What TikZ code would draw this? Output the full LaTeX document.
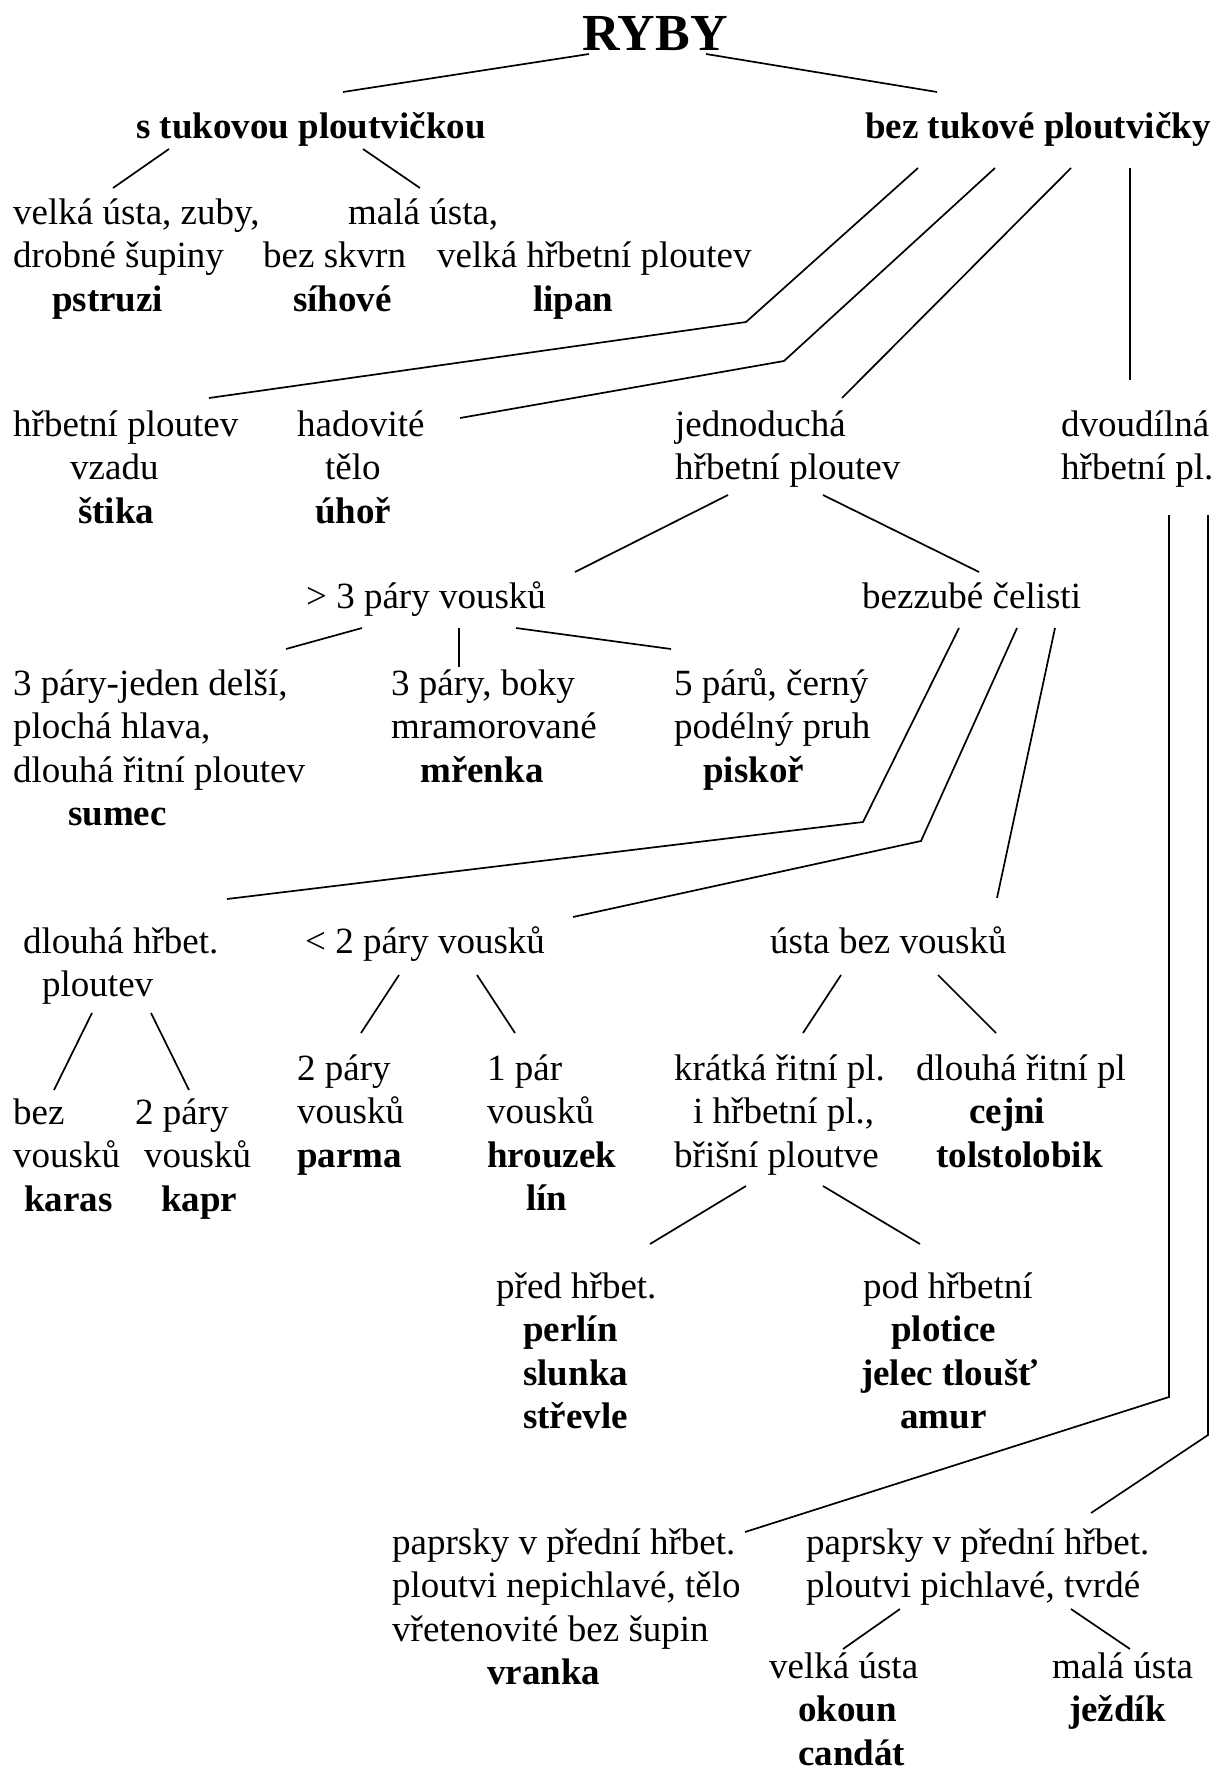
\documentclass[tikz,border=0pt]{standalone}
\usepackage{fontspec}
\setmainfont{Liberation Serif}

\begin{document}
\begin{tikzpicture}[x=1pt, y=-1pt]
    \tikzset{
        txt/.style = {anchor=base west, inner sep=0pt, align=left, font=\fontsize{37}{43.5}\selectfont},
        title/.style = {anchor=base west, inner sep=0pt, font=\fontsize{52}{60}\selectfont\bfseries},
        link/.style = {draw, line width=1.7pt}
    }
    \useasboundingbox (0,0) rectangle (1223,1773);

    % nodes sit on the baseline of their last line
    \node[title] (ryby) at (582,50) {RYBY};
    \node[txt] (stuk) at (136,138) {\textbf{s tukovou ploutvičkou}};
    \node[txt] (beztuk) at (865,138) {\textbf{bez tukové ploutvičky}};

    \node[txt] (pstruzi) at (13,311) {velká ústa, zuby,\\drobné šupiny\\\hspace*{39pt}\textbf{pstruzi}};
    \node[txt] (sihove) at (263,311) {\hspace*{85pt}malá ústa,\\bez skvrn\\\hspace*{30pt}\textbf{síhové}};
    \node[txt] (lipan) at (437,311) {velká hřbetní ploutev\\\hspace*{96pt}\textbf{lipan}};

    \node[txt] (stika) at (13,523) {hřbetní ploutev\\\hspace*{57pt}vzadu\\\hspace*{65pt}\textbf{štika}};
    \node[txt] (uhor) at (297,523) {hadovité\\\hspace*{28pt}tělo\\\hspace*{18pt}\textbf{úhoř}};
    \node[txt] (jednoducha) at (675,479.5) {jednoduchá\\hřbetní ploutev};
    \node[txt] (dvoudilna) at (1061,479.5) {dvoudílná\\hřbetní pl.};

    \node[txt] (vousky3) at (306,608) {> 3 páry vousků};
    \node[txt] (bezzube) at (862,608) {bezzubé čelisti};

    \node[txt] (sumec) at (13,825.5) {3 páry-jeden delší,\\plochá hlava,\\dlouhá řitní ploutev\\\hspace*{55pt}\textbf{sumec}};
    \node[txt] (mrenka) at (391,782) {3 páry, boky\\mramorované\\\hspace*{29pt}\textbf{mřenka}};
    \node[txt] (piskor) at (674,782) {5 párů, černý\\podélný pruh\\\hspace*{29pt}\textbf{piskoř}};

    \node[txt] (dlouhahrbet) at (23,996.5) {dlouhá hřbet.\\\hspace*{19pt}ploutev};
    \node[txt] (vousky2) at (305,953) {< 2 páry vousků};
    \node[txt] (bezvousku) at (770,953) {ústa bez vousků};

    \node[txt] (karas) at (13,1211) {bez\\vousků\\\hspace*{11pt}\textbf{karas}};
    \node[txt] (kapr) at (135,1211) {2 páry\\\hspace*{9pt}vousků\\\hspace*{26pt}\textbf{kapr}};
    \node[txt] (parma) at (297,1167) {2 páry\\vousků\\\textbf{parma}};
    \node[txt] (hrouzek) at (487,1210.5) {1 pár\\vousků\\\textbf{hrouzek}\\\hspace*{39pt}\textbf{lín}};
    \node[txt] (kratka) at (674,1167) {krátká řitní pl.\\\hspace*{19pt}i hřbetní pl.,\\břišní ploutve};
    \node[txt] (cejni) at (916,1167) {dlouhá řitní pl\\\hspace*{53pt}\textbf{cejni}\\\hspace*{20pt}\textbf{tolstolobik}};

    \node[txt] (perlin) at (496,1428.5) {před hřbet.\\\hspace*{27pt}\textbf{perlín}\\\hspace*{27pt}\textbf{slunka}\\\hspace*{27pt}\textbf{střevle}};
    \node[txt] (plotice) at (861,1428.5) {\hspace*{2pt}pod hřbetní\\\hspace*{30pt}\textbf{plotice}\\\textbf{jelec tloušť}\\\hspace*{39pt}\textbf{amur}};

    \node[txt] (vranka) at (392,1684.5) {paprsky v přední hřbet.\\ploutvi nepichlavé, tělo\\vřetenovité bez šupin\\\hspace*{95pt}\textbf{vranka}};
    \node[txt] (pichlave) at (806,1597.5) {paprsky v přední hřbet.\\ploutvi pichlavé, tvrdé};
    \node[txt] (okoun) at (769,1765) {velká ústa\\\hspace*{29pt}\textbf{okoun}\\\hspace*{29pt}\textbf{candát}};
    \node[txt] (jezdik) at (1052,1721.5) {malá ústa\\\hspace*{17pt}\textbf{ježdík}};

    % line ends
    \coordinate (ryby-l) at (589,54);  \coordinate (stuk-n) at (343,92);
    \coordinate (ryby-r) at (706,54);  \coordinate (beztuk-n) at (937,92);
    \coordinate (stuk-l) at (169,149); \coordinate (pstruzi-n) at (113,188);
    \coordinate (stuk-r) at (363,149); \coordinate (sihove-n) at (420,188);
    \coordinate (beztuk-1) at (918,168); \coordinate (beztuk-1b) at (746,322); \coordinate (stika-n) at (209,398);
    \coordinate (beztuk-2) at (995,168); \coordinate (beztuk-2b) at (784,361); \coordinate (uhor-n) at (460,418);
    \coordinate (beztuk-3) at (1071,168); \coordinate (jednoducha-n) at (842,398);
    \coordinate (beztuk-4) at (1130,168); \coordinate (dvoudilna-n) at (1130,380);
    \coordinate (jednoducha-l) at (728,495); \coordinate (vousky3-n) at (575,572);
    \coordinate (jednoducha-r) at (823,495); \coordinate (bezzube-n) at (979,572);
    \coordinate (vousky3-l) at (362,628); \coordinate (sumec-n) at (286,649);
    \coordinate (vousky3-m) at (459,628); \coordinate (mrenka-n) at (459,667);
    \coordinate (vousky3-r) at (516,628); \coordinate (piskor-n) at (671,649);
    \coordinate (bezzube-1) at (959,628); \coordinate (bezzube-1b) at (863,822); \coordinate (dlouhahrbet-n) at (227,899);
    \coordinate (bezzube-2) at (1017,628); \coordinate (bezzube-2b) at (921,841); \coordinate (vousky2-n) at (573,917);
    \coordinate (bezzube-3) at (1055,628); \coordinate (bezvousku-n) at (997,898);
    \coordinate (dvoudilna-1) at (1169,515); \coordinate (dvoudilna-1b) at (1169,1397); \coordinate (vranka-n) at (745,1532);
    \coordinate (dvoudilna-2) at (1208,515); \coordinate (dvoudilna-2b) at (1208,1435); \coordinate (pichlave-n) at (1091,1513);
    \coordinate (dlouhahrbet-l) at (92,1013); \coordinate (karas-n) at (54,1090);
    \coordinate (dlouhahrbet-r) at (151,1013); \coordinate (kapr-n) at (189,1090);
    \coordinate (vousky2-l) at (399,975); \coordinate (parma-n) at (361,1033);
    \coordinate (vousky2-r) at (477,975); \coordinate (hrouzek-n) at (515,1033);
    \coordinate (bezvousku-l) at (841,975); \coordinate (kratka-n) at (803,1033);
    \coordinate (bezvousku-r) at (938,975); \coordinate (cejni-n) at (996,1033);
    \coordinate (kratka-l) at (746,1186); \coordinate (perlin-n) at (650,1244);
    \coordinate (kratka-r) at (823,1186); \coordinate (plotice-n) at (920,1244);
    \coordinate (pichlave-l) at (900,1609); \coordinate (okoun-n) at (843,1649);
    \coordinate (pichlave-r) at (1071,1609); \coordinate (jezdik-n) at (1130,1649);

    \path[link] (ryby-l) -- (stuk-n);
    \path[link] (ryby-r) -- (beztuk-n);
    \path[link] (stuk-l) -- (pstruzi-n);
    \path[link] (stuk-r) -- (sihove-n);
    \path[link] (beztuk-1) -- (beztuk-1b) -- (stika-n);
    \path[link] (beztuk-2) -- (beztuk-2b) -- (uhor-n);
    \path[link] (beztuk-3) -- (jednoducha-n);
    \path[link] (beztuk-4) -- (dvoudilna-n);
    \path[link] (jednoducha-l) -- (vousky3-n);
    \path[link] (jednoducha-r) -- (bezzube-n);
    \path[link] (vousky3-l) -- (sumec-n);
    \path[link] (vousky3-m) -- (mrenka-n);
    \path[link] (vousky3-r) -- (piskor-n);
    \path[link] (bezzube-1) -- (bezzube-1b) -- (dlouhahrbet-n);
    \path[link] (bezzube-2) -- (bezzube-2b) -- (vousky2-n);
    \path[link] (bezzube-3) -- (bezvousku-n);
    \path[link] (dvoudilna-1) -- (dvoudilna-1b) -- (vranka-n);
    \path[link] (dvoudilna-2) -- (dvoudilna-2b) -- (pichlave-n);
    \path[link] (dlouhahrbet-l) -- (karas-n);
    \path[link] (dlouhahrbet-r) -- (kapr-n);
    \path[link] (vousky2-l) -- (parma-n);
    \path[link] (vousky2-r) -- (hrouzek-n);
    \path[link] (bezvousku-l) -- (kratka-n);
    \path[link] (bezvousku-r) -- (cejni-n);
    \path[link] (kratka-l) -- (perlin-n);
    \path[link] (kratka-r) -- (plotice-n);
    \path[link] (pichlave-l) -- (okoun-n);
    \path[link] (pichlave-r) -- (jezdik-n);
\end{tikzpicture}
\end{document}
